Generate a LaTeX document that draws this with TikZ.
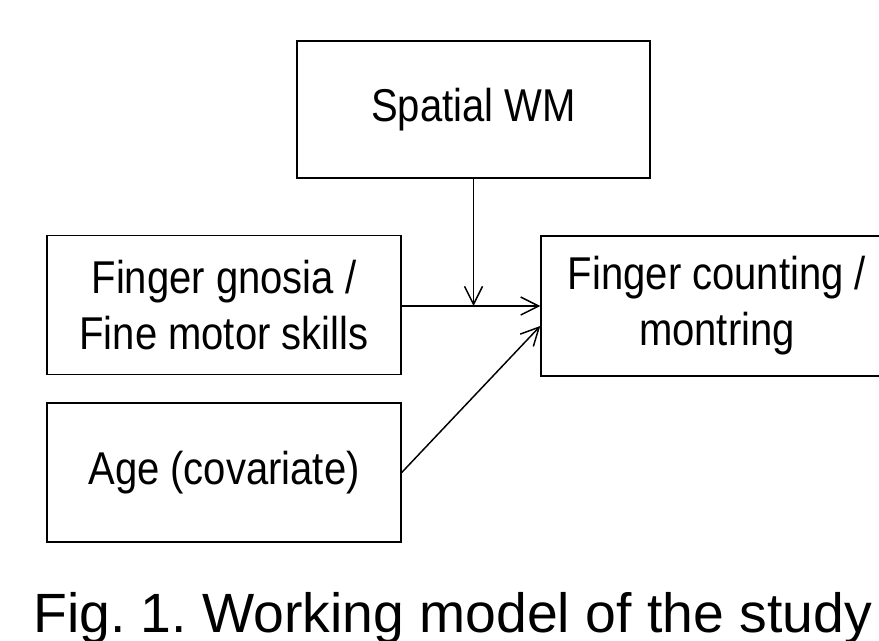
\documentclass[tikz,border=0pt]{standalone}
\usepackage{fontspec}
\setmainfont{Liberation Sans}
\newfontfamily\boxfont[FakeStretch=0.87]{Liberation Sans}
\usetikzlibrary{arrows.meta,calc}
\frenchspacing
\begin{document}
\begin{tikzpicture}[x=0.75pt,y=-0.75pt,
  box/.style={draw,line width=1.1pt,inner sep=0pt,align=center,
    font=\boxfont\fontsize{34.5}{42}\selectfont},
  conn/.style={line width=1.1pt,-{Straight Barb[length=13.5pt,width=13.5pt,line width=1.1pt]}}]
\useasboundingbox (0,0) rectangle (879,640);
\clip (0,0) rectangle (879,640);
\node[box,minimum width=264.75pt,minimum height=102.75pt] (sp) at (473.5,109.5) {Spatial WM};
\node[box,minimum width=265.5pt,minimum height=104.25pt] (gn) at (224,305) {Finger gnosia /\\Fine motor skills};
\node[box,minimum width=265.5pt,minimum height=104.25pt] (age) at (224,472.5) {Age (covariate)};
\node[box,minimum width=264pt,minimum height=105pt] (cnt) at (717,306) {Finger counting /\\montring};
\coordinate (j) at (sp.south |- cnt.west);
\coordinate (cin) at ($(cnt.west)+(0,20)$);
\draw[conn] (gn.east |- cnt.west) -- (cnt.west);
\draw[conn] (sp.south) -- (j);
\draw[conn] (age.east) -- (cin);
\node[anchor=base,inner sep=0pt,font=\fontsize{41.5}{50}\selectfont] (cap) at (452.5,632) {Fig. 1. Working model of the study};
\end{tikzpicture}
\end{document}
